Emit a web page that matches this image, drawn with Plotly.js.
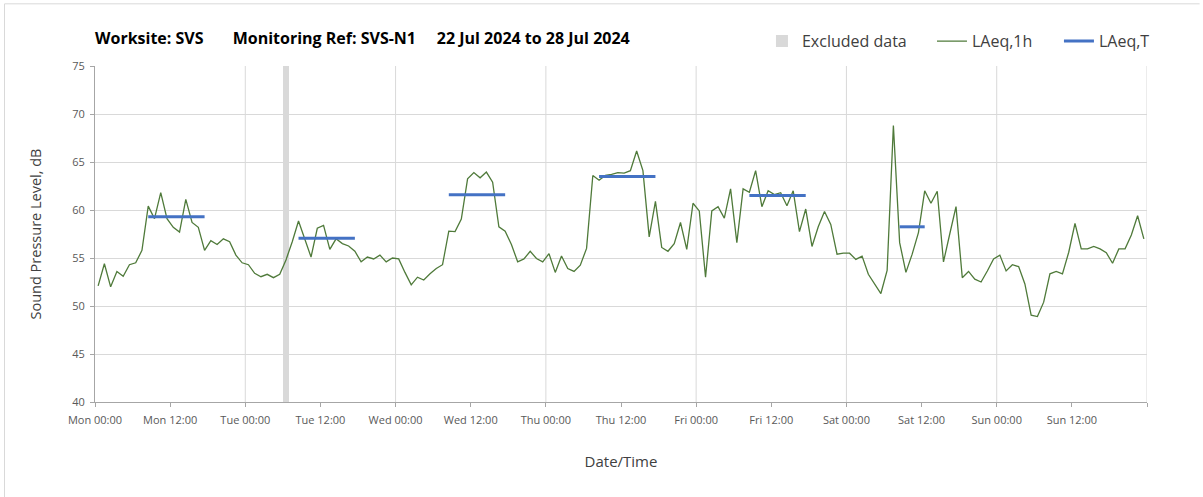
<!DOCTYPE html>
<html><head><meta charset="utf-8">
<script src="https://cdn.plot.ly/plotly-3.0.1.min.js"></script>
<style>html,body{margin:0;padding:0;background:#fff}#chart{width:1203px;height:497px}</style>
</head><body><div id="chart"></div><script>
// Hourly LAeq,1h values, Mon 00:00 .. Sun 23:00 (one per hour, plotted at mid-hour)
const laeq1h = [
 52.1,54.4,52.0,53.6,53.1,54.3,54.5,55.8,60.4,59.1,61.8,59.1,58.2,57.7,61.1,58.7,58.2,55.8,56.8,56.4,57.0,56.7,55.3,54.5,
 54.3,53.4,53.05,53.3,52.95,53.3,54.8,56.7,58.85,57.0,55.1,58.1,58.4,55.9,57.0,56.5,56.25,55.7,54.6,55.1,54.9,55.3,54.6,55.0,
 54.9,53.5,52.2,53.0,52.7,53.35,53.9,54.3,57.8,57.75,59.05,63.25,63.9,63.35,63.95,62.9,58.25,57.8,56.4,54.6,54.9,55.7,54.95,54.6,
 55.45,53.5,55.2,53.9,53.6,54.25,56.0,63.6,63.1,63.6,63.7,63.9,63.85,64.1,66.15,64.1,57.2,60.9,56.1,55.7,56.5,58.7,55.9,60.7,
 59.9,53.0,59.9,60.35,59.15,62.2,56.6,62.2,61.85,64.1,60.35,62.0,61.6,61.8,60.45,62.0,57.75,60.1,56.2,58.25,59.85,58.5,55.4,55.5,
 55.5,54.85,55.2,53.3,52.25,51.3,53.7,68.8,56.6,53.5,55.4,57.65,62.0,60.7,61.95,54.6,57.5,60.35,52.95,53.6,52.8,52.5,53.65,54.9,
 55.3,53.65,54.3,54.1,52.3,49.05,48.9,50.4,53.35,53.6,53.35,55.6,58.6,55.95,55.95,56.2,55.95,55.55,54.45,55.95,55.95,57.4,59.4,57.0
];
// LAeq,T periods (hours from Mon 00:00) and levels
const periodStart = [8.5, 32.5, 56.5, 80.5, 104.5, 128.5];
const periodEnd   = [17.5, 41.5, 65.5, 89.5, 113.5, 132.5];
const laeqT       = [59.3, 57.05, 61.6, 63.5, 61.5, 58.25];
// Excluded data window (hours)
const excludedStart = [30.1];
const excludedEnd   = [31];
// Axis ticks
const tickHours  = [0,12,24,36,48,60,72,84,96,108,120,132,144,156,168];
const tickLabels = ["Mon 00:00","Mon 12:00","Tue 00:00","Tue 12:00","Wed 00:00","Wed 12:00","Thu 00:00","Thu 12:00","Fri 00:00","Fri 12:00","Sat 00:00","Sat 12:00","Sun 00:00","Sun 12:00",""];
const dayLines = [24,48,72,96,120,144,168];

const hours = laeq1h.map((_, i) => i + 0.5);

const tx = [], ty = [];
periodStart.forEach((s, k) => { tx.push(s, periodEnd[k], null); ty.push(laeqT[k], laeqT[k], null); });

const FONT = '"Open Sans", Lato, sans-serif';
const traces = [
  { type:'bar', name:'Excluded data', legend:'legend', x: excludedStart.map((s,k)=>(s+excludedEnd[k])/2),
    width: excludedStart.map((s,k)=>excludedEnd[k]-s), y: excludedStart.map(()=>35), base: 40,
    marker:{color:'#d9d9d9', line:{width:0}}, hoverinfo:'skip' },
  { type:'scatter', mode:'lines', name:'LAeq,1h', legend:'legend2', x: hours, y: laeq1h,
    line:{color:'#4f7a3a', width:1.3} },
  { type:'scatter', mode:'lines', name:'LAeq,T', legend:'legend3', x: tx, y: ty,
    line:{color:'#4472c4', width:3}, connectgaps:false }
];

const legBase = {orientation:'h', xanchor:'left', y:1.074, yanchor:'middle',
  font:{family:FONT, size:16, color:'#404040'}, bgcolor:'rgba(0,0,0,0)'};

const layout = {
  width:1203, height:497,
  margin:{l:95, r:56, t:66, b:95},
  paper_bgcolor:'#fff', plot_bgcolor:'#fff',
  font:{family:FONT, color:'#595959', size:11},
  title:{text:'Worksite: SVS&nbsp;&nbsp;&nbsp;&nbsp;&nbsp;&nbsp; Monitoring Ref: SVS-N1&nbsp;&nbsp;&nbsp;&nbsp; 22 Jul 2024 to 28 Jul 2024',
    font:{family:FONT, size:16, color:'#000', weight:'bold'}, x:95/1203, xanchor:'left', xref:'container',
    y:1-38/497, yanchor:'middle', yref:'container'},
  showlegend:true,
  legend: Object.assign({}, legBase, {x:0.634}),
  legend2: Object.assign({}, legBase, {x:0.7956}),
  legend3: Object.assign({}, legBase, {x:0.9163}),
  xaxis:{range:[0,168], tickmode:'array', tickvals:tickHours, ticktext:tickLabels,
    showgrid:false, zeroline:false, showline:true, linecolor:'#a6a6a6', linewidth:1,
    ticks:'outside', ticklen:4, tickcolor:'#a6a6a6', tickfont:{size:11, color:'#595959'}, ticklabelstandoff:4,
    title:{text:'Date/Time', font:{size:15, color:'#404040'}, standoff:30}, automargin:false, fixedrange:true},
  yaxis:{range:[40,75], dtick:5, tick0:40, showgrid:true, gridcolor:'#d9d9d9', zeroline:false,
    showline:true, linecolor:'#a6a6a6', linewidth:1, ticks:'outside', ticklen:4, tickcolor:'#a6a6a6',
    tickfont:{size:11, color:'#595959'}, ticklabelstandoff:3,
    title:{text:'Sound Pressure Level, dB', font:{size:14.5, color:'#404040'}, standoff:27}, automargin:false, fixedrange:true},
  bargap:0,
  shapes: dayLines.map(d => ({type:'line', xref:'x', yref:'paper', x0:d, x1:d, y0:0, y1:1,
      line:{color:'#d9d9d9', width:1}, layer:'below'})).concat([
    {type:'line', xref:'paper', yref:'paper', x0:-0.086, x1:1.05, y0:1.185, y1:1.185, line:{color:'#d9d9d9', width:1}},
    {type:'line', xref:'paper', yref:'paper', x0:-0.086, x1:-0.086, y0:1.185, y1:-0.3, line:{color:'#d9d9d9', width:1}}
  ])
};
Plotly.newPlot('chart', traces, layout, {displayModeBar:false, staticPlot:true});
</script></body></html>
